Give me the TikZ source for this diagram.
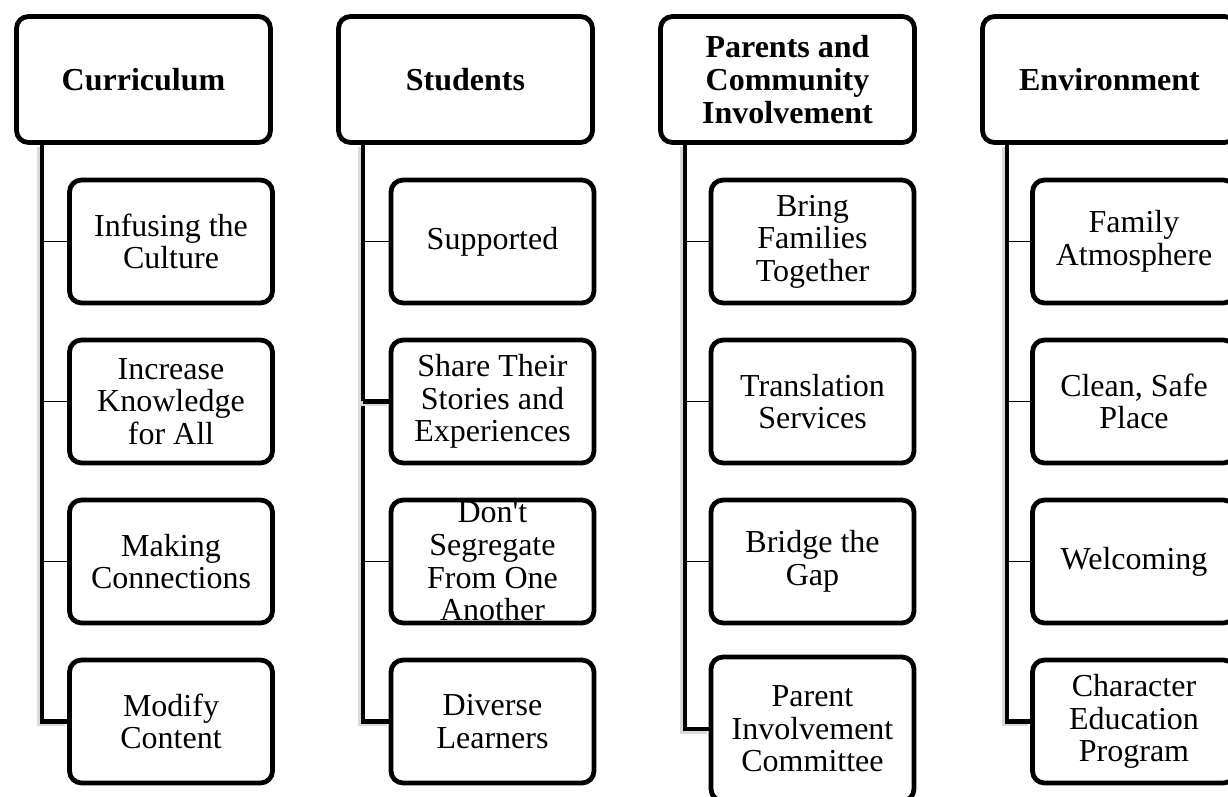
\documentclass[tikz,border=0pt]{standalone}
\usepackage{fontspec}
\setmainfont{Liberation Serif}
\tikzset{
  head/.style={draw, fill=white, line width=2.4pt, rounded corners=6pt,
    minimum width=127pt, minimum height=63pt, inner sep=2pt,
    align=center, font=\fontsize{16}{16.6}\selectfont\bfseries},
  kid/.style={draw, fill=white, line width=2.4pt, rounded corners=6pt,
    minimum width=101.5pt, minimum height=61.5pt, inner sep=2pt,
    align=center, font=\fontsize{16}{16.3}\selectfont},
  kidtext/.style={inner sep=0pt, align=center, font=\fontsize{16}{16.3}\selectfont},
  trunk/.style={line width=2.2pt,
    preaction={draw=black!15, line width=2.6pt, transform canvas={shift={(-1pt,-1pt)}}}},
  twig/.style={line width=0.8pt},
}
\begin{document}
\begin{tikzpicture}[x=0.5pt,y=-0.5pt]
  \useasboundingbox (0,0) rectangle (1228,797);
  % headers
  \node[head] (cur) at (143.5,79.5) {Curriculum};
  \node[head] (stu) at (465.5,79.5) {Students};
  \node[head] (par) at (787.5,79.5) {Parents and\\Community\\Involvement};
  \node[head] (env) at (1109.5,79.5) {Environment};
  % curriculum
  \node[kid] (cur1) at (171,241.5) {Infusing the\\Culture};
  \node[kid] (cur2) at (171,401.5) {Increase\\Knowledge\\for All};
  \node[kid] (cur3) at (171,561.5) {Making\\Connections};
  \node[kid] (cur4) at (171,721.5) {Modify\\Content};
  % students
  \node[kid] (stu1) at (492.5,241.5) {Supported};
  \node[kid] (stu2) at (492.5,401.5) {Share Their\\Stories and\\Experiences};
  \node[kid] (stu3) at (492.5,561.5) {};
  \node[kidtext] (stu3t) at (stu3) {Don\textquotesingle t\\Segregate\\From One\\Another};
  \node[kid] (stu4) at (492.5,721.5) {Diverse\\Learners};
  % parents
  \node[kid] (par1) at (812.5,241.5) {Bring\\Families\\Together};
  \node[kid] (par2) at (812.5,401.5) {Translation\\Services};
  \node[kid] (par3) at (812.5,561.5) {Bridge the\\Gap};
  \node[kid, minimum height=72pt] (par4) at (812.5,729) {Parent\\Involvement\\Committee};
  % environment
  \node[kid] (env1) at (1134,241.5) {Family\\Atmosphere};
  \node[kid] (env2) at (1134,401.5) {Clean, Safe\\Place};
  \node[kid] (env3) at (1134,561.5) {Welcoming};
  \node[kid] (env4) at (1134,721.5) {Character\\Education\\Program};
  % connectors
  \coordinate (curt) at (42,145);
  \coordinate (stut) at (363,145);
  \coordinate (part) at (685,145);
  \coordinate (envt) at (1007,145);
  \draw[trunk] (curt) |- (cur4.west);
  \draw[twig] (curt |- cur1.west) -- (cur1.west);
  \draw[twig] (curt |- cur2.west) -- (cur2.west);
  \draw[twig] (curt |- cur3.west) -- (cur3.west);
  \draw[trunk] (stut) |- (stu4.west);
  \draw[twig] (stut |- stu1.west) -- (stu1.west);
  \draw[trunk] (stut |- stu2.west) -- (stu2.west);
  \draw[twig] (stut |- stu3.west) -- (stu3.west);
  \draw[trunk] (part) |- (par4.west);
  \draw[twig] (part |- par1.west) -- (par1.west);
  \draw[twig] (part |- par2.west) -- (par2.west);
  \draw[twig] (part |- par3.west) -- (par3.west);
  \draw[trunk] (envt) |- (env4.west);
  \draw[twig] (envt |- env1.west) -- (env1.west);
  \draw[twig] (envt |- env2.west) -- (env2.west);
  \draw[twig] (envt |- env3.west) -- (env3.west);
\end{tikzpicture}
\end{document}
